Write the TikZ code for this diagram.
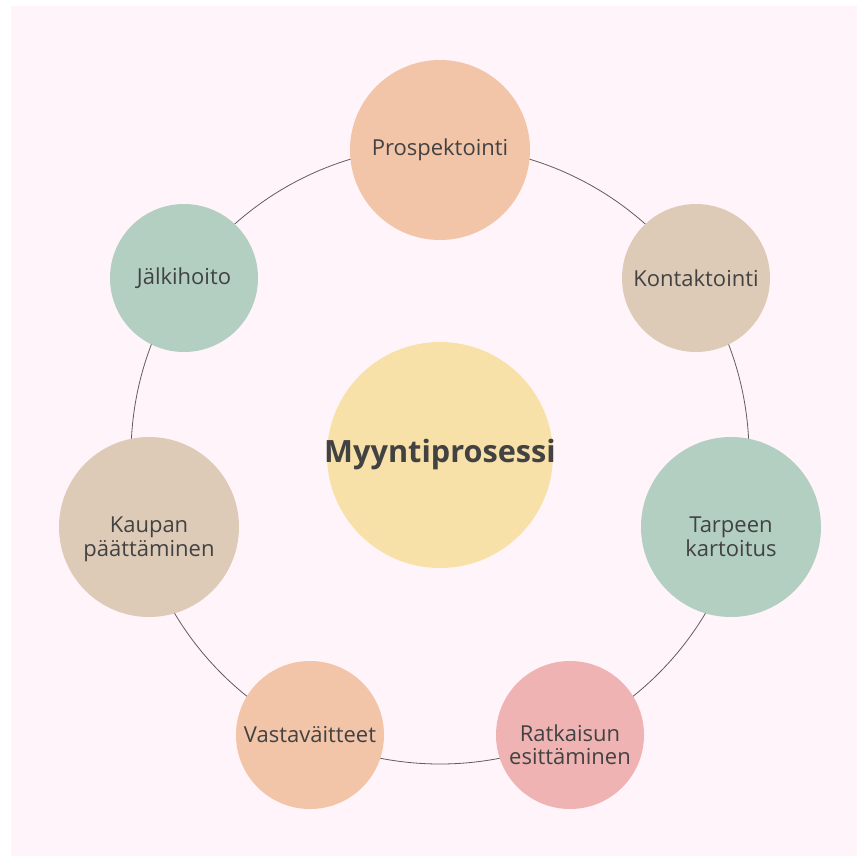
\documentclass[tikz,border=0pt]{standalone}
\usepackage{fontspec}
\setmainfont{Open Sans}
\definecolor{bgpink}{HTML}{FFF4F9}
\definecolor{peach}{HTML}{F2C4A8}
\definecolor{beige}{HTML}{DDCBB8}
\definecolor{sage}{HTML}{B3CFC2}
\definecolor{rose}{HTML}{EFB3B3}
\definecolor{sand}{HTML}{F8E1A8}
\definecolor{ink}{HTML}{424242}
\newcommand{\twolines}[2]{\raisebox{-14pt}[0pt][0pt]{\begin{tabular}{@{}c@{}}#1\\#2\end{tabular}}}
\tikzset{
  step node/.style={circle,fill=#1,text=ink,inner sep=0pt,align=center,
    font=\fontsize{16.5}{17.3}\selectfont},
  big/.style={minimum size=135pt},
  small/.style={minimum size=111pt},
}
\begin{document}
\begin{tikzpicture}[x=0.75pt,y=-0.75pt,line join=round,line cap=round]
				\useasboundingbox (0,0) rectangle (857,856);
				\fill[bgpink] (11,6) rectangle (857,856);
				\coordinate (O) at (440,455);
				\draw[ink!85,line width=.6pt] (O) circle[radius=309];
				\node[circle,fill=sand,minimum size=169.5pt,inner sep=0pt,text=ink,font=\fontsize{23}{27}\selectfont\bfseries] (core) at (O) {\makebox[0pt]{Myyntiprosessi}};
				\node[step node=peach,big] (prosp) at (440,150) {Prospektointi};
				\node[step node=beige,small] (kontakt) at (696,278) {Kontaktointi};
				\node[step node=sage,big] (tarve) at (731,527) {\twolines{Tarpeen}{kartoitus}};
				\node[step node=rose,small] (ratk) at (570,735) {\twolines{Ratkaisun}{esittäminen}};
				\node[step node=peach,small] (vasta) at (310,735) {Vastaväitteet};
				\node[step node=beige,big] (kauppa) at (149,527) {\twolines{Kaupan}{päättäminen}};
				\node[step node=sage,small] (jalki) at (184,278) {Jälkihoito};
			\end{tikzpicture}
\end{document}
